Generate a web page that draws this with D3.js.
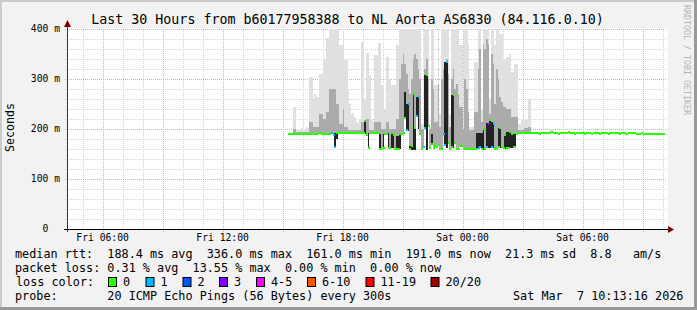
<!DOCTYPE html>
<html>
<head>
<meta charset="utf-8">
<script src="https://cdn.jsdelivr.net/npm/d3@7"></script>
<style>
  body { margin:0; background:#f2f2f2; }
  svg { display:block; }
  text { font-family:"DejaVu Sans Mono", monospace; fill:#000; white-space:pre; }
</style>
</head>
<body>
<div class="svg-container"></div>
<script>
//time window of the graph
const tStart = new Date(2026, 2, 6, 4, 13, 16);
const tEnd = new Date(2026, 2, 7, 10, 13, 16);
const firstStep = new Date(2026, 2, 6, 15, 15, 0);
const stepMs = 5*60*1000;

//median rtt per 5 min step (ms)
const median = [
  191,191,191,191,191,191,191,191,191,191,191,191,191,191,191,191,191,191,193,193,
  191,191,191,191,191,191,192,189,165,192,192,192,192,192,192,192,192,192,192,192,
  192,192,192,192,192,192,216,189,163,192,192,192,192,192,192,160,161,162,190,190,
  162,162,192,189,161,161,161,190,190,192,223,198,250,161,167,271,203,227,265,190,
  161,165,203,308,207,162,171,162,166,164,168,161,161,191,168,335,172,161,165,268,
  172,161,161,166,166,161,161,161,161,161,161,161,161,161,162,165,161,200,160,165,
  211,219,165,211,160,160,165,203,164,162,188,162,163,195,190,164,164,190,192,192,
  192,192,192,192,192,192,192,192,192,192,192,190,192,192,192,192,192,192,194,192,
  192,192,190,192,192,192,192,192,194,192,192,192,190,192,192,192,192,192,190,192,
  192,192,190,192,192,192,192,190,192,192,192,192,190,192,192,192,192,192,192,190,
  192,192,192,190,192,192,192,192,192,190,191,191,193,190,190,190,190,190,190,190,
  190,190,190,190,190,190
];

//top of the light smoke (ms, 0 = none)
const smokeHi = [
  0,0,0,245,245,200,198,200,203,200,198,205,203,305,305,258,271,264,264,311,
  311,341,341,382,382,420,420,420,420,420,420,368,368,420,338,338,278,250,230,235,
  225,215,210,220,375,375,260,352,352,308,220,215,348,348,372,372,288,288,240,345,
  345,300,288,288,288,368,368,420,420,420,420,420,420,420,420,420,420,420,420,420,
  210,210,420,420,420,205,420,420,288,288,420,230,420,420,420,420,420,230,420,420,
  420,420,420,368,368,215,420,420,370,205,205,205,335,335,420,420,240,420,420,420,
  420,260,420,420,368,420,420,390,390,341,341,345,345,350,315,315,330,330,211,211,
  218,218,218,218,261,261,0,0,0,0,0,0,0,0,0,0,0,200,200,0
];

//top of the medium smoke (ms, 0 = none)
const smokeMid = [
  0,0,0,200,200,195,195,195,195,195,195,195,195,215,215,205,205,205,205,230,
  230,220,220,235,235,280,280,280,280,250,250,210,210,240,205,205,198,198,198,198,
  198,198,198,198,215,215,205,220,220,198,198,198,215,215,215,215,200,200,200,215,
  215,200,200,200,200,220,220,300,330,350,330,310,280,270,300,340,350,340,320,300,
  200,200,320,340,300,200,300,280,215,215,290,205,300,320,330,340,310,205,300,320,
  280,290,270,245,245,200,300,280,235,198,198,198,235,235,320,360,215,370,360,380,
  370,230,350,330,250,320,300,265,255,245,245,240,240,240,225,225,225,225,198,198,
  198,198,202,202,205,205
];

//other end of the dark smoke bar (ms, 0 = none)
const smokeDark = [
  0,0,0,0,0,0,0,0,0,0,0,0,0,0,0,0,0,0,0,0,
  0,0,0,0,0,0,0,0,192,182,0,0,0,0,0,0,0,0,0,0,
  0,0,0,0,0,0,193,0,192,0,0,0,0,0,0,191,0,190,0,0,
  192,0,165,165,0,186,186,162,0,0,275,250,198,167,161,161,161,265,202,0,
  0,0,308,161,0,0,190,0,0,0,0,0,0,0,335,165,0,0,268,165,
  0,0,0,0,0,0,0,0,0,0,0,0,0,193,193,193,193,161,0,213,
  165,165,215,165,0,0,203,164,0,0,162,195,195,165,164,190,190
];

//steps with packet loss and their loss class
const lossIdx = [26,27,28,71,72,77,78,81,82,93,94,95,114,115,119,120,122,123];
const lossLvl = [1,1,1,1,1,1,1,1,1,1,1,1,1,1,1,3,1,1];

const lossLabels = ['0','1','2','3','4-5','6-10','11-19','20/20'];
const lossColors = ['#26ff00','#00b8ff','#0059ff','#7e00ff','#ff00ff','#ff5500','#ff0000','#a10000'];
const lossBoxX = [108.5,146,183,219.5,256.5,307.5,366,431];

const yTicks = [0,100,200,300,400];

//legend lines
const rttLine = 'median rtt:  188.4 ms avg  336.0 ms max  161.0 ms min  191.0 ms now  21.3 ms sd  8.8   am/s';
const lossLine = 'packet loss: 0.31 % avg  13.55 % max  0.00 % min  0.00 % now';
const probeLine = 'probe:       20 ICMP Echo Pings (56 Bytes) every 300s';
const dateText = 'Sat Mar  7 10:13:16 2026';
const title = 'Last 30 Hours from b60177958388 to NL Aorta AS6830 (84.116.0.10)';

const W = 697, H = 310;
const plot = { left:67, right:667, top:29, bottom:229 };

const svg = d3.select('.svg-container')
  .append('svg')
  .attr('width', W)
  .attr('height', H);

//frame
svg.append('rect').attr('width', W).attr('height', H).attr('fill', '#f2f2f2');
svg.append('rect').attr('x',0).attr('y',0).attr('width',W).attr('height',2).attr('fill','#cbcbcb');
svg.append('rect').attr('x',0).attr('y',0).attr('width',2).attr('height',H).attr('fill','#cbcbcb');
svg.append('rect').attr('x',0).attr('y',H-3).attr('width',W).attr('height',3).attr('fill','#999');
svg.append('rect').attr('x',W-3).attr('y',0).attr('width',3).attr('height',H).attr('fill','#999');

//canvas
svg.append('rect')
  .attr('x', plot.left).attr('y', 28)
  .attr('width', plot.right - plot.left + 1).attr('height', plot.bottom - 28)
  .attr('fill', '#fff');

const x = d3.scaleTime().domain([tStart, tEnd]).range([plot.left, plot.right]);
const y = d3.scaleLinear().domain([0, 400]).range([plot.bottom, plot.top]);

const steps = median.map((d, i) => new Date(firstStep.getTime() + i*stepMs));

//grid
const minorY = d3.range(0, 401, 20).filter(v => v % 100 !== 0);
svg.selectAll('.gy').data(minorY).join('line')
  .attr('x1', plot.left - 2).attr('x2', plot.right)
  .attr('y1', d => Math.round(y(d)) + 0.5).attr('y2', d => Math.round(y(d)) + 0.5)
  .attr('stroke', '#d2d2d2').attr('stroke-dasharray', '1,1');

const hours = d3.timeHour.range(tStart, tEnd).filter(d => d.getHours() % 3 !== 0);
svg.selectAll('.gx').data(hours).join('line')
  .attr('x1', d => Math.round(x(d)) + 0.5).attr('x2', d => Math.round(x(d)) + 0.5)
  .attr('y1', plot.top).attr('y2', plot.bottom + 2)
  .attr('stroke', '#d2d2d2').attr('stroke-dasharray', '1,1');

svg.selectAll('.my').data(yTicks.slice(1)).join('line')
  .attr('x1', plot.left - 2).attr('x2', plot.right)
  .attr('y1', d => Math.round(y(d)) + 0.5).attr('y2', d => Math.round(y(d)) + 0.5)
  .attr('stroke', '#dca8a8').attr('stroke-dasharray', '1,1');

const hours3 = d3.timeHour.range(tStart, tEnd).filter(d => d.getHours() % 3 === 0);
svg.selectAll('.mx').data(hours3).join('line')
  .attr('x1', d => Math.round(x(d)) + 0.5).attr('x2', d => Math.round(x(d)) + 0.5)
  .attr('y1', plot.top).attr('y2', plot.bottom + 3)
  .attr('stroke', '#dca8a8').attr('stroke-dasharray', '1,1');

//smoke
const gSmoke = svg.append('g').attr('shape-rendering', 'crispEdges');
const x0 = i => x(steps[i]);
const x1 = i => x(new Date(steps[i].getTime() + stepMs));
const low = i => Math.min(median[i], smokeDark[i] || median[i]) - 1;
const topY = v => Math.max(y(Math.min(v, 400)), 28);

gSmoke.selectAll('.hi').data(d3.range(median.length).filter(i => smokeHi[i] > 0))
  .join('rect')
  .attr('x', x0).attr('width', i => x1(i) - x0(i))
  .attr('y', i => topY(smokeHi[i]))
  .attr('height', i => y(low(i)) - topY(smokeHi[i]))
  .attr('fill', '#e0e0e0');

gSmoke.selectAll('.mid').data(d3.range(median.length).filter(i => smokeMid[i] > 0))
  .join('rect')
  .attr('x', x0).attr('width', i => x1(i) - x0(i))
  .attr('y', i => topY(smokeMid[i]))
  .attr('height', i => y(low(i)) - topY(smokeMid[i]))
  .attr('fill', '#ababab');

gSmoke.selectAll('.dk').data(d3.range(median.length).filter(i => smokeDark[i] > 0))
  .join('rect')
  .attr('x', x0).attr('width', i => x1(i) - x0(i))
  .attr('y', i => y(Math.max(median[i], smokeDark[i])))
  .attr('height', i => Math.abs(y(median[i]) - y(smokeDark[i])) + 1)
  .attr('fill', '#222');

//median ticks coloured by loss
const lossOf = median.map(() => 0);
lossIdx.forEach((s, k) => lossOf[s] = lossLvl[k]);

gSmoke.selectAll('.med').data(median)
  .join('rect')
  .attr('x', (d, i) => x0(i)).attr('width', (d, i) => x1(i) - x0(i) + 0.4)
  .attr('y', d => y(d) - 1).attr('height', 2)
  .attr('fill', (d, i) => lossColors[lossOf[i]]);

//axes
svg.append('line')
  .attr('x1', plot.left - 3).attr('x2', plot.right + 2)
  .attr('y1', plot.bottom + 0.5).attr('y2', plot.bottom + 0.5)
  .attr('stroke', '#000');
svg.append('line')
  .attr('x1', plot.left + 0.5).attr('x2', plot.left + 0.5)
  .attr('y1', plot.bottom + 3).attr('y2', 24)
  .attr('stroke', '#333');
svg.append('path')
  .attr('d', `M${plot.right+1},${plot.bottom-3} L${plot.right+7},${plot.bottom+0.5} L${plot.right+1},${plot.bottom+4} Z`)
  .attr('fill', '#7f0000');
svg.append('path')
  .attr('d', `M${plot.left-3},${27} L${plot.left+0.5},${20} L${plot.left+4},${27} Z`)
  .attr('fill', '#7f0000');

//y labels
svg.selectAll('.ylab').data(yTicks).join('text')
  .attr('x', d => d === 0 ? 48.3 : 60)
  .attr('y', d => y(d))
  .attr('dy', '0.35em')
  .attr('text-anchor', 'end')
  .attr('font-size', '9.7px')
  .text(d => d === 0 ? '0' : `${d} m`);

//x labels
const fmt = d3.timeFormat('%a %H:%M');
svg.selectAll('.xlab').data(d3.timeHour.every(6).range(tStart, tEnd)).join('text')
  .attr('x', d => x(d))
  .attr('y', 241)
  .attr('text-anchor', 'middle')
  .attr('font-size', '9.7px')
  .text(d => fmt(d));

//title
svg.append('text')
  .attr('x', 347.5).attr('y', 24)
  .attr('text-anchor', 'middle')
  .attr('font-size', '13.3px')
  .text(title);

//vertical label
svg.append('text')
  .attr('transform', 'translate(14,127.5) rotate(-90)')
  .attr('text-anchor', 'middle')
  .attr('font-size', '11.6px')
  .text('Seconds');

//watermark
svg.append('text')
  .attr('transform', 'translate(684,5) rotate(90)')
  .attr('font-size', '8.3px')
  .style('fill', '#b4b4b4')
  .text('RRDTOOL / TOBI OETIKER');

//legend
const lg = svg.append('g').attr('font-size', '11.8px');
lg.append('text').attr('x', 15).attr('y', 258).text(rttLine);
lg.append('text').attr('x', 15).attr('y', 272).text(lossLine);
lg.append('text').attr('x', 16).attr('y', 286).text('loss color:');
lg.selectAll('.lbox').data(lossColors).join('rect')
  .attr('x', (d, i) => lossBoxX[i]).attr('y', 277.5)
  .attr('width', 8).attr('height', 9)
  .attr('fill', d => d).attr('stroke', '#000');
lg.selectAll('.llab').data(lossLabels).join('text')
  .attr('x', (d, i) => lossBoxX[i] + 14.5).attr('y', 286).text(d => d);
lg.append('text').attr('x', 15).attr('y', 300).text(probeLine);
lg.append('text').attr('x', 513).attr('y', 300).text(dateText);
</script>
</body>
</html>
